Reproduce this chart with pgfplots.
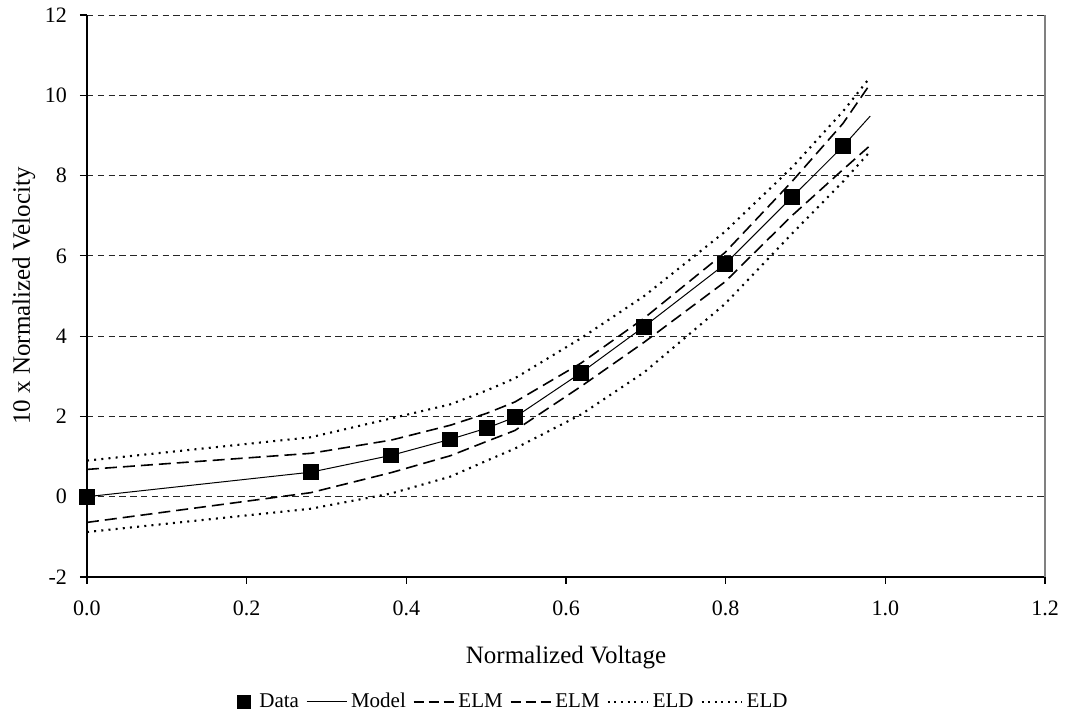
\documentclass[border=0pt]{standalone}
\usepackage{pgfplots}
\pgfplotsset{compat=1.18}
\usepackage{fontspec}
\setmainfont{Liberation Serif}
\pgfplotsset{
  linelegend/.style={legend image code/.code={\draw (0pt,0pt) -- (20pt,0pt);}},
  dashlegend/.style={legend image code/.code={\draw[dash pattern=on 5pt off 2.5pt] (0pt,0pt) -- (20pt,0pt);}},
  dotlegend/.style={legend image code/.code={\draw[dash pattern=on 1pt off 2.3pt] (0pt,0pt) -- (20pt,0pt);}},
  marklegend/.style={legend image code/.code={\draw[mark=square*, mark size=3.3pt, black] plot coordinates {(0pt,0pt)}; \path (-3.3pt,0pt) (5.5pt,0pt);}},
}
\begin{document}
\begin{tikzpicture}
\begin{axis}[
  scale only axis,
  width=479pt, height=281pt,
  xmin=0, xmax=1.2, ymin=-2, ymax=12,
  xtick={0,0.2,...,1.2}, ytick={-2,0,...,12},
  xticklabel style={yshift=-5pt, /pgf/number format/.cd,fixed,fixed zerofill,precision=1},
  yticklabel style={xshift=-3pt},
  /pgf/number format/assume math mode=true,
  tick align=outside, tick style={black, line width=0.6pt},
  major tick length=3.5pt,
  axis x line*=bottom, axis y line*=left,
  axis line style={black, line width=0.9pt, -},
  ymajorgrids,
  grid style={black!85, line width=0.45pt, dash pattern=on 3.2pt off 2.2pt},
  tick label style={font=\fontsize{11}{13}\selectfont},
  label style={font=\fontsize{12.5}{15}\selectfont},
  xlabel={Normalized Voltage}, ylabel={10 x Normalized Velocity},
  xlabel style={yshift=-8pt},
  ylabel style={yshift=-2pt},
  legend style={at={(0.446,-0.222)}, anchor=center, draw=none, fill=none,
    font=\fontsize{10.5}{12.5}\selectfont,
    /tikz/every odd column/.append style={column sep=0pt},
    /tikz/every even column/.append style={column sep=1.5pt}},
  legend columns=-1,
  legend cell align=left,
  clip=false,
]
\addplot[only marks, mark=square*, mark size=3.7pt, black, marklegend] coordinates {
(0,0) (0.28,0.61) (0.381,1.03) (0.455,1.43) (0.501,1.71) (0.536,1.98) (0.619,3.09) (0.698,4.24) (0.799,5.79) (0.883,7.46) (0.947,8.73)};
\addlegendentry{Data}
\addplot[black, line width=0.5pt, linelegend] coordinates {
(0,0) (0.28,0.61) (0.381,1.03) (0.455,1.43) (0.501,1.71) (0.536,1.98) (0.619,3.09) (0.698,4.24) (0.799,5.79) (0.883,7.46) (0.947,8.73) (0.981,9.48)};
\addlegendentry{Model}
\addplot[black, line width=0.8pt, dash pattern=on 6pt off 3pt, dashlegend] coordinates {
(0,0.68) (0.28,1.08) (0.381,1.41) (0.455,1.78) (0.501,2.08) (0.536,2.36) (0.619,3.33) (0.698,4.45) (0.799,6.08) (0.883,7.85) (0.947,9.3) (0.981,10.28)};
\addlegendentry{ELM}
\addplot[black, line width=0.8pt, dash pattern=on 6pt off 3pt, dashlegend] coordinates {
(0,-0.64) (0.28,0.1) (0.381,0.6) (0.455,1.02) (0.501,1.38) (0.536,1.65) (0.619,2.75) (0.698,3.85) (0.799,5.35) (0.883,7.0) (0.947,8.15) (0.981,8.75)};
\addlegendentry{ELM}
\addplot[black, line width=1.05pt, dash pattern=on 1pt off 2.6pt, dotlegend] coordinates {
(0,0.9) (0.28,1.48) (0.381,1.95) (0.455,2.3) (0.501,2.65) (0.536,2.95) (0.619,3.95) (0.698,5.0) (0.799,6.6) (0.883,8.2) (0.947,9.6) (0.981,10.45)};
\addlegendentry{ELD}
\addplot[black, line width=1.05pt, dash pattern=on 1pt off 2.6pt, dotlegend] coordinates {
(0,-0.88) (0.28,-0.3) (0.381,0.08) (0.455,0.5) (0.501,0.9) (0.536,1.2) (0.619,2.05) (0.698,3.1) (0.799,4.8) (0.883,6.55) (0.947,7.85) (0.981,8.6)};
\addlegendentry{ELD}
\draw[gray, line width=0.8pt] (axis cs:1.2,-2) -- (axis cs:1.2,12);
\end{axis}
\pgfresetboundingbox
\path[use as bounding box] ([xshift=-43.5pt,yshift=-72pt]current axis.south west) rectangle ([xshift=10pt,yshift=7.5pt]current axis.north east);
\end{tikzpicture}
\end{document}
